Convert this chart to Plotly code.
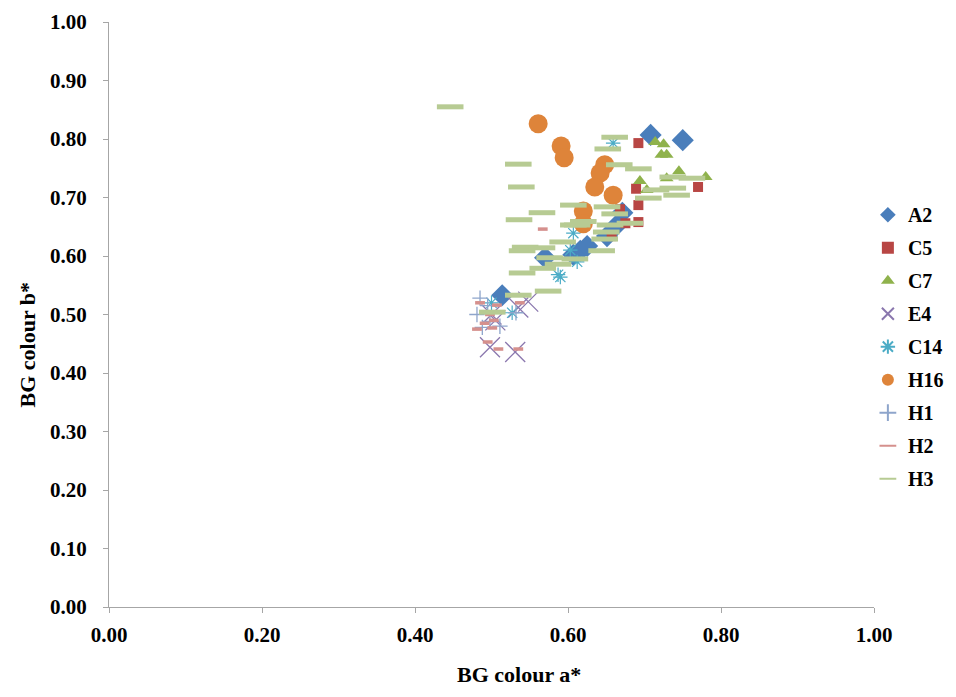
import plotly.graph_objects as go

series_names = ["A2", "C5", "C7", "E4", "C14", "H16", "H1", "H2", "H3"]

a2_x = [0.514, 0.570, 0.607, 0.616, 0.625, 0.651, 0.664, 0.671, 0.708, 0.750]
a2_y = [0.533, 0.597, 0.602, 0.609, 0.617, 0.634, 0.653, 0.674, 0.807, 0.798]

c5_x = [0.692, 0.689, 0.770, 0.692, 0.668, 0.692, 0.675, 0.657]
c5_y = [0.793, 0.715, 0.718, 0.687, 0.680, 0.658, 0.656, 0.634]

c7_x = [0.714, 0.725, 0.722, 0.729, 0.694, 0.703, 0.729, 0.745, 0.780]
c7_y = [0.795, 0.791, 0.773, 0.773, 0.728, 0.713, 0.733, 0.745, 0.735]

e4_x = [0.548, 0.535, 0.500, 0.505, 0.498, 0.531]
e4_y = [0.522, 0.512, 0.500, 0.490, 0.444, 0.436]

c14_x = [0.659, 0.607, 0.603, 0.612, 0.587, 0.590, 0.527, 0.500]
c14_y = [0.793, 0.639, 0.610, 0.590, 0.568, 0.564, 0.503, 0.520]

h16_x = [0.561, 0.591, 0.595, 0.648, 0.642, 0.635, 0.659, 0.620, 0.620]
h16_y = [0.826, 0.788, 0.768, 0.756, 0.742, 0.718, 0.704, 0.677, 0.655]

h1_x = [0.485, 0.481, 0.488, 0.498, 0.511, 0.532, 0.495]
h1_y = [0.528, 0.500, 0.478, 0.488, 0.480, 0.503, 0.515]

h2_x = [0.485, 0.507, 0.537, 0.491, 0.501, 0.481, 0.495, 0.509, 0.535, 0.503, 0.567, 0.498]
h2_y = [0.520, 0.516, 0.520, 0.485, 0.477, 0.475, 0.453, 0.441, 0.441, 0.490, 0.646, 0.500]

h3_x = [0.446, 0.535, 0.539, 0.566, 0.536, 0.607, 0.607, 0.661, 0.652, 0.667,
        0.692, 0.737, 0.762, 0.715, 0.737, 0.742, 0.705, 0.651, 0.661, 0.681,
        0.655, 0.620, 0.612, 0.650, 0.648, 0.644, 0.593, 0.544, 0.540, 0.566,
        0.576, 0.609, 0.587, 0.567, 0.540, 0.574, 0.535, 0.501]
h3_y = [0.855, 0.757, 0.718, 0.674, 0.662, 0.687, 0.653, 0.803, 0.783, 0.756,
        0.749, 0.735, 0.733, 0.713, 0.716, 0.704, 0.699, 0.684, 0.672, 0.656,
        0.653, 0.659, 0.653, 0.641, 0.629, 0.609, 0.624, 0.615, 0.609, 0.614,
        0.597, 0.595, 0.586, 0.579, 0.571, 0.540, 0.533, 0.504]

x_ticks = [0.0, 0.2, 0.4, 0.6, 0.8, 1.0]
y_ticks = [0.0, 0.1, 0.2, 0.3, 0.4, 0.5, 0.6, 0.7, 0.8, 0.9, 1.0]

x_title = "BG colour a*"
y_title = "BG colour b*"

data = [
    (a2_x, a2_y, dict(symbol="diamond", size=17, color="#4A7EBB")),
    (c5_x, c5_y, dict(symbol="square", size=10, color="#B84644")),
    (c7_x, c7_y, dict(symbol="triangle-up", size=12, color="#8FB24C")),
    (e4_x, e4_y, dict(symbol="x-thin-open", size=20, color="#8A77AE", line=dict(width=1.3, color="#8A77AE"))),
    (c14_x, c14_y, dict(symbol="asterisk-open", size=12, color="#4BACC6", line=dict(width=1.2, color="#4BACC6"))),
    (h16_x, h16_y, dict(symbol="circle", size=19, color="#DE843A")),
    (h1_x, h1_y, dict(symbol="cross-thin-open", size=11, color="#8EA5CB", line=dict(width=1.3, color="#8EA5CB"))),
    (h2_x, h2_y, dict(symbol="line-ew-open", size=7, color="#D5908D", line=dict(width=3.5, color="#D5908D"))),
    (h3_x, h3_y, dict(symbol="line-ew-open", size=19, color="#B7CB93", line=dict(width=5, color="#B7CB93"))),
]

fig = go.Figure()
for name, (xs, ys, mk) in zip(series_names, data):
    fig.add_trace(go.Scatter(x=xs, y=ys, mode="markers", name=name, marker=mk,
                             legendgroup=name))

font_family = "Liberation Serif, Times New Roman, serif"
axis_common = dict(
    showgrid=False, zeroline=False, showline=True, linecolor="#A6A6A6", linewidth=1,
    ticks="outside", ticklen=5, tickcolor="#A6A6A6", tickformat=".2f",
    tickfont=dict(family=font_family, size=21, color="black", weight="bold"),
    mirror=False, automargin=False,
)
title_font = dict(family=font_family, size=22, color="black", weight="bold")

fig.update_layout(
    width=948, height=680,
    margin=dict(l=101, r=82, t=14, b=81, autoexpand=False),
    paper_bgcolor="white", plot_bgcolor="white",
    font=dict(family=font_family, color="black"),
    xaxis=dict(range=[0, 1], tickvals=x_ticks, **axis_common, ticklabelstandoff=4),
    yaxis=dict(range=[0, 1], tickvals=y_ticks, **axis_common, ticklabelstandoff=12),
    legend=dict(x=0.992, y=0.445, xanchor="left", yanchor="middle",
                font=dict(family=font_family, size=20, color="black", weight="bold"),
                tracegroupgap=4, itemsizing="constant", bgcolor="rgba(0,0,0,0)"),
    showlegend=True,
    annotations=[
        dict(text=x_title, xref="paper", yref="paper", x=0.5, y=0, xshift=27, yshift=-67,
             xanchor="center", yanchor="middle", showarrow=False, font=title_font),
        dict(text=y_title, xref="paper", yref="paper", x=0, y=0.5, xshift=-82, yshift=-30,
             xanchor="center", yanchor="middle", textangle=-90, showarrow=False, font=title_font),
    ],
)

fig.write_html("out.html")
